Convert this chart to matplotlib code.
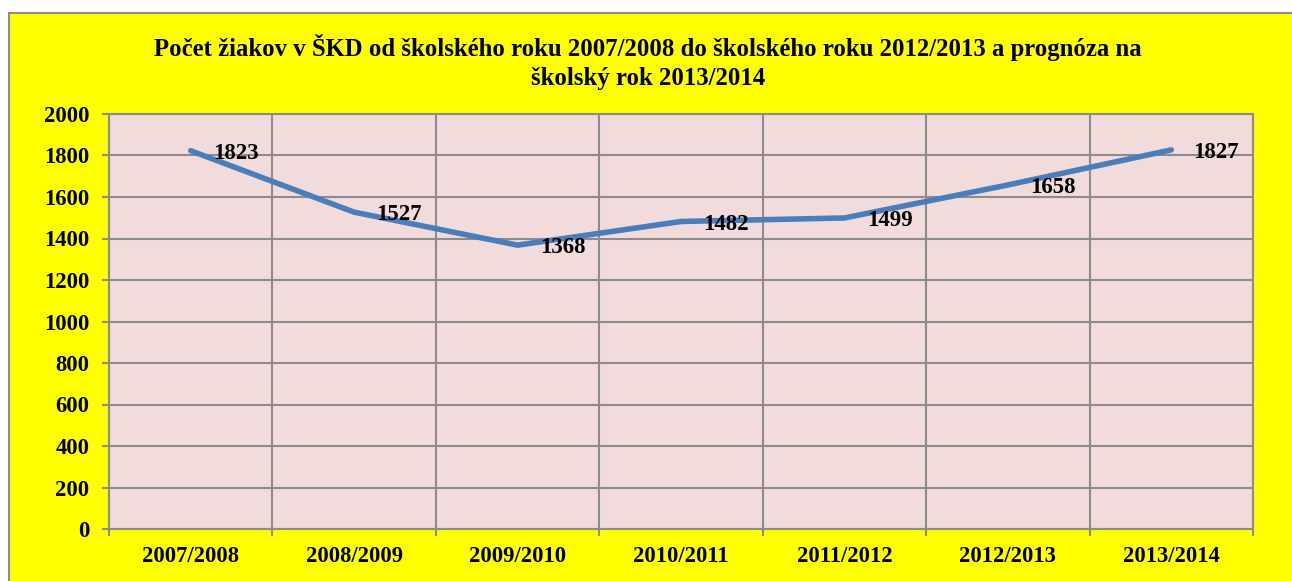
import matplotlib.pyplot as plt
from matplotlib.patches import Rectangle

plt.rcParams['font.family'] = ['Liberation Serif', 'DejaVu Serif']
plt.rcParams['font.weight'] = 'bold'

roky = ['2007/2008', '2008/2009', '2009/2010', '2010/2011',
        '2011/2012', '2012/2013', '2013/2014']
ziaci = [1823, 1527, 1368, 1482, 1499, 1658, 1827]
y_ticks = [0, 200, 400, 600, 800, 1000, 1200, 1400, 1600, 1800, 2000]

W, H = 1292, 581
fig = plt.figure(figsize=(W / 100, H / 100), dpi=100, facecolor='white')
# outer chart frame (yellow)
fig.patches.append(Rectangle((9 / W, -0.1), 1.2, 1.1 - 13 / H, transform=fig.transFigure,
                             facecolor='#ffff00', edgecolor='#8c8c8c', linewidth=1.5,
                             zorder=-5))

ax = fig.add_axes([109 / W, 1 - 529 / H, (1253 - 109) / W, (529 - 114) / H])
ax.set_facecolor('#f2dcdb')

x = range(len(roky))
ax.plot(x, ziaci, color='#4a7ebb', linewidth=4, solid_capstyle='round', zorder=3)
for xi, v in zip(x, ziaci):
    ax.annotate(str(v), (xi, v), xytext=(16, -2), textcoords='offset points',
                ha='left', va='center', fontsize=16.5, fontweight='bold', zorder=4)

ax.set_xlim(-0.5, len(roky) - 0.5)
ax.set_ylim(0, 2000)
ax.set_yticks(y_ticks)
ax.set_xticks([i + 0.5 for i in range(-1, len(roky))], minor=False)
ax.set_xticklabels([])
ax.set_xticks(list(x), minor=True)
ax.set_xticklabels(roky, minor=True)
ax.tick_params(axis='x', which='minor', length=0, pad=12, labelsize=16.3)
ax.tick_params(axis='x', which='major', length=5, width=1.5, color='#8c8c8c')
ax.tick_params(axis='y', length=5, width=1.5, color='#8c8c8c', labelsize=16.3, pad=9)
for lab in ax.get_xticklabels(minor=True) + ax.get_yticklabels():
    lab.set_fontweight('bold')

ax.grid(True, which='major', color='#8c8c8c', linewidth=1.5)
ax.set_axisbelow(True)
for s in ax.spines.values():
    s.set_color('#8c8c8c')
    s.set_linewidth(1.5)

fig.text(0.5 + 2 / W, 1 - 62 / H,
         'Počet žiakov v ŠKD od školského roku 2007/2008 do školského roku 2012/2013 a prognóza na\nškolský rok 2013/2014',
         ha='center', va='center', fontsize=17.8, fontweight='bold', linespacing=1.28)

plt.savefig('out.png', dpi=100)
